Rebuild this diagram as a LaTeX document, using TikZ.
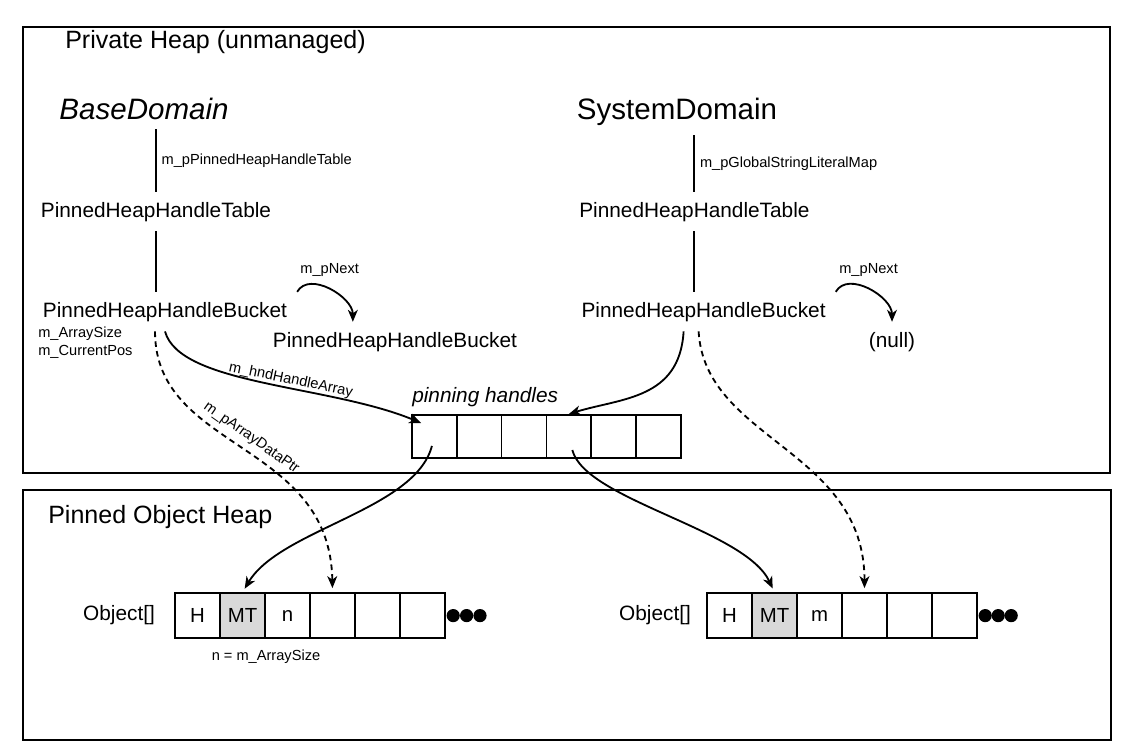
\documentclass[tikz,border=0pt]{standalone}
\usepackage{fontspec}
\setmainfont{Liberation Sans}
\usetikzlibrary{arrows.meta}

\tikzset{
    heapframe/.style={draw, line width=1.6pt},
    titletext/.style={font=\fontsize{17.8}{20}\selectfont, inner sep=0pt},
    domaintext/.style={font=\fontsize{21}{24}\selectfont, inner sep=7pt},
    typetext/.style={font=\fontsize{14.8}{17}\selectfont, inner sep=7pt},
    fieldtext/.style={font=\fontsize{10.4}{12}\selectfont},
    cell/.style={draw, line width=1.1pt, minimum width=1.12cm, minimum height=1.08cm, inner sep=0pt},
    objcell/.style={draw, line width=1.1pt, minimum width=1.125cm, minimum height=1.125cm, inner sep=0pt, font=\fontsize{14.5}{17}\selectfont},
    dotmark/.style={circle, fill, inner sep=0pt, minimum size=0.33cm},
    link/.style={line width=1.3pt},
    ptr/.style={->, line width=1.3pt},
    dataptr/.style={->, line width=1.3pt, dash pattern=on 4pt off 3pt}
}

\begin{document}
\begin{tikzpicture}[>={Stealth[length=8.5pt, width=7pt, inset=2.5pt]}]
    \useasboundingbox (0, 0) rectangle (28.125, -18.875);

    % the two heaps
    \draw[heapframe] (0.575, -0.675) rectangle (27.75, -11.825);
    \draw[heapframe] (0.575, -12.25) rectangle (27.775, -18.5);
    \node[titletext, anchor=base west] (privTitle) at (1.625, -1.2) {Private Heap (unmanaged)};
    \node[titletext, anchor=base west] (pohTitle) at (1.2, -13.075) {Pinned Object Heap};

    \node[domaintext, anchor=base] (baseDom) at (3.6, -2.975) {\itshape BaseDomain};
    \node[domaintext, anchor=base] (sysDom) at (16.925, -2.975) {SystemDomain};

    \node[typetext, anchor=base] (tableL) at (3.9, -5.425) {PinnedHeapHandleTable};
    \node[typetext, anchor=base] (tableR) at (17.36, -5.425) {PinnedHeapHandleTable};
    \node[typetext, anchor=base] (bucketL) at (4.125, -7.925) {PinnedHeapHandleBucket};
    \node[typetext, anchor=base] (bucketR) at (17.59, -7.925) {PinnedHeapHandleBucket};
    \node[typetext, anchor=base] (nextL) at (9.875, -8.675) {PinnedHeapHandleBucket};
    \node[typetext, anchor=base] (nullR) at (22.3, -8.675) {(null)};

    \node[fieldtext, anchor=base west, inner sep=0pt] (arrSize) at (0.95, -8.425) {m\_ArraySize};
    \node[fieldtext, anchor=base west, inner sep=0pt] (curPos) at (0.95, -8.875) {m\_CurrentPos};

    % pinning handles
    \node[typetext, anchor=base west, inner sep=0pt] (pinLabel) at (10.3, -10.05) {\itshape pinning handles};
    \node[cell] (h1) at (10.86, -10.91) {};
    \node[cell] (h2) at (11.98, -10.91) {};
    \node[cell] (h3) at (13.10, -10.91) {};
    \node[cell] (h4) at (14.22, -10.91) {};
    \node[cell] (h5) at (15.34, -10.91) {};
    \node[cell] (h6) at (16.46, -10.91) {};

    % left Object[]
    \node[typetext, inner sep=0pt] (objL) at (2.975, -15.39) {Object[]};
    \node[objcell] (L1) at (4.9375, -15.39) {H};
    \node[objcell, fill=gray!30] (L2) at (6.0625, -15.39) {MT};
    \node[objcell] (L3) at (7.1875, -15.39) {n};
    \node[objcell] (L4) at (8.3125, -15.39) {};
    \node[objcell] (L5) at (9.4375, -15.39) {};
    \node[objcell] (L6) at (10.5625, -15.39) {};
    \node[dotmark] (dotL1) at (11.33, -15.39) {};
    \node[dotmark] (dotL2) at (11.665, -15.39) {};
    \node[dotmark] (dotL3) at (12.0, -15.39) {};
    \node[fieldtext] (sizeNote) at (6.65, -16.425) {n = m\_ArraySize};

    % right Object[]
    \node[typetext, inner sep=0pt] (objR) at (16.375, -15.39) {Object[]};
    \node[objcell] (R1) at (18.2375, -15.39) {H};
    \node[objcell, fill=gray!30] (R2) at (19.3625, -15.39) {MT};
    \node[objcell] (R3) at (20.4875, -15.39) {m};
    \node[objcell] (R4) at (21.6125, -15.39) {};
    \node[objcell] (R5) at (22.7375, -15.39) {};
    \node[objcell] (R6) at (23.8625, -15.39) {};
    \node[dotmark] (dotR1) at (24.63, -15.39) {};
    \node[dotmark] (dotR2) at (24.955, -15.39) {};
    \node[dotmark] (dotR3) at (25.28, -15.39) {};

    % domain -> table -> bucket
    \draw[link] (tableL.north |- baseDom.south) -- (tableL.north)
        node[midway, right, fieldtext] {m\_pPinnedHeapHandleTable};
    \draw[link] (tableR.north |- sysDom.south) -- (tableR.north)
        node[midway, right, fieldtext] {m\_pGlobalStringLiteralMap};
    \draw[link] (tableL.south) -- (tableL.south |- bucketL.north);
    \draw[link] (tableR.south) -- (tableR.south |- bucketR.north);

    \draw[ptr] (bucketL.north east) to[out=60, in=90]
        node[above=5pt, fieldtext] {m\_pNext} ([xshift=2.25cm]nextL.north west);
    \draw[ptr] (bucketR.north east) to[out=60, in=90]
        node[above=5pt, fieldtext] {m\_pNext} (nullR.north);

    % buckets -> handles and data
    \draw[ptr] (bucketL.south) .. controls +(0.375, -1.35) and +(-2.3, 0.96) ..
        node[pos=0.58, sloped, above, inner sep=0.5pt, fieldtext] {m\_hndHandleArray} ([xshift=0.25cm]h1.150);
    \draw[dataptr, shorten >=3pt] ([xshift=-0.25cm]bucketL.south) .. controls +(0, -3.0) and +(-0.06, 3.8) ..
        node[pos=0.5, sloped, above, inner sep=5pt, fieldtext] {m\_pArrayDataPtr} (L4.north);
    \draw[ptr] ([xshift=-0.5cm]bucketR.south) .. controls +(-0.1, -1.7) and +(1.3, 0.4) .. (h4.north);
    \draw[dataptr, shorten >=3pt] ([xshift=-0.125cm]bucketR.south) .. controls +(0.16, -2.725) and +(0, 3.575) .. (R4.north);

    % handles -> objects
    \draw[ptr, shorten <=7pt, shorten >=3pt] (h1.center) .. controls +(-0.48, -1.84) and +(0.94, 1.575) .. (L2.north);
    \draw[ptr, shorten <=10pt, shorten >=3pt] (h4.center) .. controls +(0.41, -1.59) and +(-0.74, 1.575) .. (R2.north);
\end{tikzpicture}
\end{document}
